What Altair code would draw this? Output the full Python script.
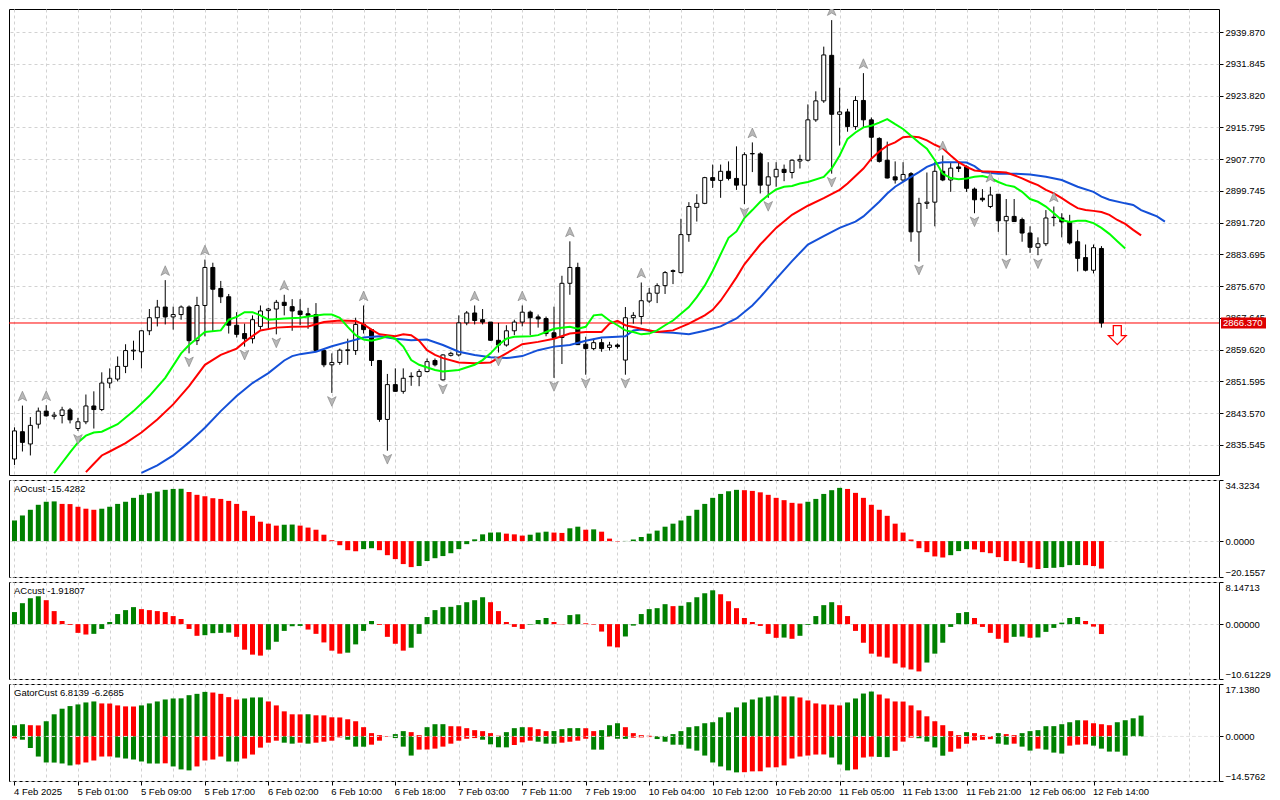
import json
import altair as alt
import pandas as pd

# ---------------- data ----------------
time_labels = ["4 Feb 2025", "5 Feb 01:00", "5 Feb 09:00", "5 Feb 17:00", "6 Feb 02:00",
               "6 Feb 10:00", "6 Feb 18:00", "7 Feb 03:00", "7 Feb 11:00", "7 Feb 19:00",
               "10 Feb 04:00", "10 Feb 12:00", "10 Feb 20:00", "11 Feb 05:00", "11 Feb 13:00",
               "11 Feb 21:00", "12 Feb 06:00", "12 Feb 14:00"]

opens = [2832.0, 2838.9, 2835.8, 2840.8, 2844.1, 2842.8, 2843.0, 2844.4, 2839.7, 2841.4,
         2845.4, 2844.5, 2851.2, 2852.2, 2855.4, 2859.3, 2859.1, 2864.4, 2867.7, 2870.4,
         2867.9, 2868.5, 2870.4, 2861.9, 2870.8, 2880.4, 2875.1, 2873.0, 2865.8, 2863.7,
         2862.4, 2865.5, 2869.5, 2869.9, 2871.6, 2870.5, 2869.4, 2868.7, 2868.5, 2859.4,
         2855.8, 2856.4, 2859.4, 2859.4, 2866.0, 2864.7, 2856.9, 2842.0, 2850.8, 2849.1,
         2852.8, 2852.9, 2854.1, 2856.9, 2852.0, 2858.2, 2858.3, 2866.4, 2868.9, 2867.2,
         2866.6, 2862.0, 2860.8, 2864.4, 2866.6, 2869.1, 2867.9, 2867.5, 2863.9, 2862.7,
         2876.4, 2880.4, 2861.0, 2859.9, 2861.4, 2860.2, 2860.8, 2857.0, 2867.7, 2868.0,
         2871.9, 2873.9, 2875.8, 2879.4, 2879.1, 2888.7, 2895.6, 2896.6, 2903.1, 2902.4,
         2904.7, 2902.9, 2901.2, 2909.1, 2909.1, 2901.2, 2903.3, 2905.2, 2904.4, 2907.3,
         2907.5, 2917.7, 2922.5, 2934.0, 2919.1, 2919.7, 2916.0, 2922.6, 2917.7, 2913.0,
         2907.5, 2903.3, 2902.5, 2904.1, 2889.4, 2896.6, 2896.9, 2904.7, 2902.5, 2905.8,
         2905.8, 2900.2, 2897.9, 2895.8, 2898.9, 2892.2, 2893.3, 2892.5, 2889.1, 2885.5,
         2886.4, 2893.0, 2892.9, 2892.0, 2886.9, 2882.9, 2879.7, 2885.2]
highs = [2840.0, 2845.5, 2842.6, 2845.0, 2845.6, 2843.9, 2845.2, 2844.9, 2842.4, 2848.3,
         2849.1, 2853.9, 2854.9, 2857.9, 2861.0, 2861.9, 2864.5, 2869.9, 2872.2, 2877.2,
         2870.5, 2870.8, 2870.8, 2873.0, 2882.4, 2881.6, 2877.0, 2873.7, 2869.1, 2866.2,
         2868.3, 2870.8, 2870.2, 2872.2, 2873.5, 2872.4, 2872.4, 2870.2, 2871.4, 2859.9,
         2858.7, 2859.9, 2862.4, 2867.7, 2870.8, 2864.9, 2857.0, 2853.5, 2854.9, 2854.9,
         2853.9, 2854.7, 2857.4, 2857.4, 2858.5, 2859.1, 2868.3, 2869.4, 2870.8, 2869.9,
         2866.6, 2866.4, 2865.8, 2867.2, 2870.8, 2869.5, 2868.5, 2868.0, 2870.5, 2878.3,
         2887.0, 2881.6, 2862.9, 2862.4, 2862.4, 2861.6, 2861.2, 2870.4, 2869.1, 2876.6,
         2875.2, 2876.4, 2879.5, 2879.9, 2892.7, 2896.9, 2898.9, 2903.3, 2906.4, 2906.4,
         2907.2, 2911.0, 2909.5, 2912.0, 2909.5, 2907.0, 2907.0, 2906.4, 2907.7, 2908.9,
         2921.6, 2924.9, 2936.2, 2942.9, 2925.8, 2920.5, 2923.7, 2929.5, 2918.3, 2913.3,
         2912.2, 2907.2, 2907.0, 2904.5, 2898.0, 2904.4, 2907.0, 2908.7, 2907.0, 2907.0,
         2906.2, 2900.6, 2900.2, 2900.8, 2898.9, 2897.7, 2897.7, 2893.0, 2890.8, 2888.0,
         2894.9, 2895.8, 2894.1, 2893.7, 2889.9, 2886.2, 2886.2, 2885.8]
lows = [2830.5, 2833.9, 2832.9, 2839.7, 2842.7, 2842.0, 2841.0, 2841.0, 2839.1, 2840.8,
        2839.7, 2844.1, 2849.9, 2851.6, 2853.7, 2857.0, 2854.9, 2863.3, 2865.5, 2866.0,
        2864.7, 2867.2, 2858.7, 2860.8, 2863.0, 2864.1, 2871.4, 2863.7, 2862.7, 2860.4,
        2861.2, 2864.7, 2864.9, 2863.5, 2868.3, 2864.4, 2865.8, 2864.9, 2859.1, 2855.2,
        2848.7, 2855.8, 2855.8, 2858.3, 2863.7, 2855.5, 2841.4, 2834.1, 2849.0, 2848.5,
        2850.5, 2850.4, 2853.9, 2855.4, 2851.8, 2857.9, 2857.9, 2865.8, 2866.0, 2866.0,
        2861.9, 2858.9, 2860.4, 2863.3, 2865.5, 2863.3, 2865.2, 2863.0, 2852.5, 2856.0,
        2873.5, 2860.8, 2853.3, 2859.5, 2859.1, 2859.4, 2859.9, 2853.3, 2866.2, 2866.0,
        2871.4, 2871.4, 2873.7, 2876.2, 2878.9, 2886.9, 2892.0, 2896.4, 2900.5, 2898.0,
        2902.4, 2900.0, 2896.4, 2904.5, 2899.1, 2898.0, 2900.8, 2902.2, 2902.9, 2905.4,
        2907.2, 2917.2, 2922.0, 2904.1, 2911.2, 2914.7, 2915.2, 2915.8, 2907.2, 2906.9,
        2902.9, 2901.6, 2902.0, 2886.9, 2881.9, 2895.2, 2890.8, 2902.2, 2899.5, 2904.5,
        2899.5, 2894.1, 2897.0, 2895.4, 2889.4, 2883.5, 2891.9, 2886.9, 2884.1, 2883.5,
        2885.8, 2890.8, 2888.0, 2886.2, 2879.4, 2879.4, 2878.9, 2865.2]
closes = [2839.1, 2836.2, 2840.5, 2844.1, 2842.9, 2843.1, 2844.4, 2841.9, 2841.4, 2845.4,
          2844.5, 2851.2, 2852.4, 2855.4, 2859.4, 2859.5, 2864.4, 2867.7, 2870.4, 2867.9,
          2868.5, 2870.4, 2861.9, 2870.8, 2880.4, 2874.9, 2873.0, 2865.8, 2863.5, 2862.4,
          2867.2, 2869.4, 2869.9, 2871.6, 2870.8, 2869.4, 2868.5, 2868.3, 2859.4, 2855.8,
          2856.4, 2859.5, 2859.6, 2866.0, 2864.7, 2856.9, 2842.0, 2850.8, 2849.1, 2852.4,
          2852.9, 2854.1, 2856.6, 2855.8, 2858.3, 2858.7, 2866.4, 2868.9, 2867.0, 2866.6,
          2862.0, 2860.8, 2864.4, 2866.6, 2869.1, 2867.7, 2867.4, 2863.7, 2862.7, 2876.4,
          2880.4, 2860.9, 2859.9, 2861.4, 2859.9, 2860.8, 2860.4, 2867.7, 2868.3, 2872.0,
          2873.9, 2875.8, 2879.1, 2879.6, 2888.7, 2895.8, 2896.6, 2903.1, 2902.4, 2904.7,
          2902.9, 2901.2, 2908.9, 2909.2, 2901.2, 2903.3, 2905.2, 2904.4, 2907.5, 2907.7,
          2917.7, 2922.5, 2934.1, 2919.1, 2919.7, 2916.0, 2922.6, 2917.7, 2913.3, 2907.2,
          2903.0, 2902.5, 2903.9, 2889.4, 2896.6, 2896.9, 2904.7, 2902.5, 2905.5, 2905.4,
          2900.4, 2897.5, 2897.5, 2898.7, 2892.2, 2893.3, 2892.0, 2889.1, 2885.5, 2886.4,
          2892.9, 2893.1, 2891.9, 2886.6, 2882.7, 2879.7, 2885.4, 2866.37]

fractal_up_bars = [1, 4, 19, 24, 34, 44, 58, 64, 70, 79, 93, 103, 107, 117, 123, 131]
fractal_down_bars = [8, 22, 29, 33, 40, 47, 54, 61, 68, 72, 77, 92, 95, 103, 114, 121, 125, 129]

lips = [(5, 2828.4), (7, 2833.7), (8, 2836.2), (9, 2837.9), (10, 2838.7), (11, 2838.9),
        (13, 2840.8), (15, 2844.1), (17, 2847.9), (19, 2852.5), (21, 2858.7), (22, 2860.8),
        (24, 2864.1), (26, 2864.5), (27, 2867.2), (28, 2867.9), (29, 2869.1), (30, 2869.1),
        (31, 2868.3), (32, 2867.2), (34, 2867.5), (36, 2867.7), (37, 2868.0), (39, 2868.5),
        (40, 2868.5), (41, 2867.7), (42, 2865.4), (43, 2863.3), (44, 2862.2), (45, 2861.9),
        (46, 2862.4), (47, 2863.0), (48, 2862.4), (49, 2860.4), (50, 2857.0), (51, 2855.8),
        (53, 2854.5), (54, 2854.1), (56, 2854.5), (58, 2855.8), (59, 2857.0), (60, 2858.7),
        (61, 2860.8), (62, 2862.4), (63, 2862.9), (65, 2863.0), (66, 2863.3), (67, 2864.1),
        (68, 2864.9), (70, 2865.4), (71, 2864.9), (72, 2865.4), (73, 2868.3), (74, 2868.5),
        (75, 2867.0), (76, 2865.8), (77, 2864.5), (78, 2864.1), (79, 2863.5), (80, 2863.7),
        (81, 2864.5), (82, 2865.8), (83, 2867.0), (84, 2868.7), (85, 2870.4), (86, 2872.9),
        (87, 2875.8), (88, 2879.5), (89, 2883.7), (90, 2887.9), (91, 2889.5), (92, 2892.9),
        (93, 2894.9), (94, 2897.0), (95, 2898.7), (96, 2900.1), (97, 2900.8), (98, 2901.0),
        (99, 2901.6), (100, 2902.0), (102, 2903.3), (103, 2905.4), (104, 2908.7), (105, 2912.9),
        (106, 2914.5), (107, 2915.8), (108, 2916.2), (109, 2917.0), (110, 2917.9), (111, 2916.6),
        (112, 2915.4), (113, 2913.7), (114, 2912.0), (115, 2910.4), (116, 2907.5), (117, 2904.1),
        (118, 2903.0), (119, 2902.7), (120, 2902.9), (121, 2903.3), (122, 2903.5), (123, 2903.0),
        (124, 2902.0), (125, 2901.2), (126, 2900.8), (127, 2899.5), (128, 2897.7), (129, 2897.0),
        (130, 2895.8), (131, 2894.1), (132, 2892.4), (133, 2891.9), (134, 2892.2), (135, 2892.2),
        (136, 2891.6), (137, 2890.4), (138, 2888.9), (139, 2887.0), (140, 2885.2)]
teeth = [(9, 2828.7), (10, 2830.8), (11, 2832.9), (12, 2833.9), (14, 2836.0), (16, 2838.7),
         (18, 2842.0), (20, 2845.8), (22, 2850.4), (24, 2855.8), (26, 2858.3), (28, 2859.9),
         (29, 2861.6), (31, 2864.5), (33, 2865.2), (35, 2865.4), (37, 2865.5), (39, 2866.6),
         (41, 2867.0), (43, 2866.9), (44, 2866.0), (45, 2864.7), (46, 2863.5), (48, 2863.0),
         (49, 2863.5), (50, 2863.3), (51, 2861.9), (52, 2859.5), (53, 2858.3), (54, 2857.5),
         (56, 2856.4), (58, 2856.2), (60, 2856.4), (62, 2858.7), (64, 2861.0), (66, 2861.6),
         (68, 2862.4), (70, 2863.7), (72, 2864.1), (74, 2864.1), (75, 2866.2), (76, 2866.9),
         (77, 2865.8), (79, 2864.9), (81, 2864.1), (83, 2864.5), (85, 2866.2), (87, 2868.3),
         (88, 2869.7), (89, 2872.0), (90, 2874.9), (91, 2877.9), (92, 2881.2), (94, 2886.2),
         (96, 2890.4), (98, 2893.7), (100, 2896.0), (102, 2897.9), (104, 2900.0), (105, 2901.6),
         (106, 2903.5), (107, 2905.4), (108, 2907.9), (109, 2909.7), (110, 2911.2), (111, 2912.0),
         (112, 2913.3), (113, 2913.5), (114, 2913.3), (115, 2912.5), (116, 2911.4), (117, 2910.5),
         (118, 2908.7), (119, 2907.0), (120, 2905.8), (121, 2904.9), (122, 2904.7), (124, 2904.5),
         (125, 2904.4), (126, 2903.7), (127, 2902.9), (128, 2902.0), (129, 2901.2), (130, 2900.0),
         (131, 2899.1), (132, 2897.9), (133, 2896.6), (134, 2895.4), (135, 2894.9), (136, 2894.7),
         (137, 2894.4), (138, 2893.7), (139, 2892.4), (140, 2891.4), (141, 2889.9), (142, 2888.5)]
jaw = [(16, 2828.5), (18, 2830.4), (20, 2832.9), (22, 2836.2), (24, 2839.9), (26, 2844.1),
       (28, 2847.9), (30, 2851.2), (32, 2853.7), (34, 2856.9), (35, 2858.0), (36, 2858.5),
       (38, 2859.1), (40, 2860.5), (42, 2861.6), (44, 2862.7), (46, 2863.0), (48, 2862.4),
       (50, 2862.0), (52, 2862.2), (54, 2860.8), (56, 2859.1), (58, 2858.3), (60, 2857.7),
       (62, 2857.5), (64, 2858.0), (66, 2859.5), (68, 2860.4), (70, 2860.8), (72, 2861.9),
       (74, 2862.7), (76, 2862.9), (77, 2863.0), (78, 2864.5), (79, 2864.7), (81, 2864.1),
       (83, 2863.9), (85, 2863.5), (87, 2864.4), (89, 2865.5), (91, 2867.5), (93, 2870.8),
       (94, 2872.9), (96, 2877.5), (98, 2882.0), (100, 2886.2), (102, 2888.3), (104, 2890.4),
       (106, 2892.0), (107, 2893.3), (109, 2897.0), (110, 2899.1), (111, 2900.8), (113, 2903.3),
       (114, 2904.5), (115, 2905.8), (116, 2906.6), (117, 2907.0), (119, 2907.0), (120, 2906.9),
       (121, 2906.0), (122, 2904.5), (124, 2904.1), (126, 2904.1), (128, 2903.9), (130, 2903.3),
       (132, 2902.5), (134, 2900.8), (136, 2899.5), (137, 2898.3), (138, 2897.5), (140, 2896.6),
       (141, 2896.2), (142, 2894.9), (143, 2894.1), (144, 2893.3), (145, 2892.0)]

ao_values = [11.6, 14.4, 17.6, 20.4, 22.1, 22.3, 20.9, 20.8, 19.3, 18.2,
             17.6, 18.2, 19.3, 20.9, 22.1, 24.3, 26.0, 26.9, 27.8, 28.8,
             29.3, 29.4, 27.6, 26.0, 25.2, 24.1, 23.7, 22.6, 20.9, 17.0,
             14.2, 10.9, 9.8, 8.7, 9.2, 9.3, 8.7, 7.6, 6.4, 3.6,
             0.5, -2.3, -5.1, -5.7, -4.5, -4.0, -5.1, -7.9, -10.1, -12.9,
             -14.6, -14.0, -11.2, -9.6, -8.4, -6.8, -4.5, -1.7, 1.0, 3.8,
             4.8, 4.9, 4.2, 3.8, 3.1, 3.6, 4.8, 5.3, 4.8, 4.6,
             7.2, 8.1, 6.4, 6.6, 5.3, 1.4, -0.2, 0.1, 0.9, 2.3,
             4.2, 5.9, 8.1, 9.8, 11.6, 14.2, 17.6, 20.9, 24.3, 26.5,
             28.0, 28.8, 28.6, 28.2, 27.4, 26.0, 24.3, 23.0, 21.5, 21.1,
             22.1, 23.7, 26.5, 28.6, 29.9, 29.3, 27.1, 24.3, 20.4, 17.6,
             14.2, 9.8, 4.8, 0.9, -4.0, -6.2, -8.6, -9.2, -7.9, -5.6,
             -4.5, -4.7, -6.2, -6.8, -9.0, -11.2, -11.3, -12.3, -14.8, -15.7,
             -15.1, -15.0, -14.6, -13.5, -13.4, -13.5, -14.0, -15.4282]
ac_values = [2.33, 4.05, 5.01, 5.39, 4.63, 2.52, 0.61, -0.16, -1.69, -2.01,
             -1.88, -0.93, 0.41, 1.95, 2.71, 3.29, 2.9, 2.71, 2.52, 2.33,
             1.56, 0.99, -0.93, -2.26, -2.14, -1.75, -1.69, -1.63, -2.46, -4.94,
             -5.9, -6.09, -4.94, -3.41, -1.31, -0.41, -0.35, -1.05, -1.88, -3.54,
             -5.13, -5.71, -5.52, -3.92, -1.31, 0.61, -0.16, -2.46, -3.8, -5.13,
             -4.56, -1.88, 1.37, 2.71, 3.29, 3.35, 3.67, 4.24, 4.63, 5.2,
             4.24, 2.52, 0.41, -0.54, -0.93, -0.1, 0.8, 1.18, 0.41, -0.05,
             1.75, 1.9, 0.16, -0.1, -1.44, -4.31, -4.5, -2.39, -0.29, 1.95,
             2.9, 3.09, 3.86, 3.48, 3.55, 4.24, 5.2, 5.97, 6.54, 5.78,
             4.43, 3.09, 1.18, 0.41, -0.35, -1.88, -2.65, -2.6, -2.84, -2.26,
             -0.16, 1.56, 3.67, 4.24, 3.67, 1.56, -1.31, -3.6, -5.71, -6.28,
             -6.47, -7.62, -8.39, -8.77, -9.15, -7.43, -5.71, -3.6, -0.54, 2.14,
             2.33, 1.18, -0.54, -1.69, -2.84, -3.6, -2.46, -2.4, -2.65, -2.58,
             -1.5, -0.73, 0.29, 1.18, 1.37, 0.61, -0.48, -1.91807]
gator_upper = [3.67, 3.99, 3.67, 3.6, 4.96, 7.23, 9.06, 9.92, 10.46, 11.11,
               11.43, 10.79, 10.75, 10.14, 9.82, 9.78, 10.14, 10.79, 11.43, 12.08,
               12.41, 12.45, 13.48, 13.92, 14.56, 14.35, 13.92, 12.84, 12.08, 12.41,
               12.73, 12.76, 11.43, 10.14, 8.2, 7.23, 7.2, 7.25, 6.9, 6.88,
               6.26, 6.2, 5.61, 4.96, 3.02, 1.08, 0.43, 0.11, 0.76, 1.73,
               1.4, 0.43, 3.02, 3.99, 4.0, 3.34, 3.3, 2.7, 2.05, 1.73,
               1.08, 0.25, 1.4, 2.7, 3.02, 3.0, 2.37, 1.73, 1.75, 2.37,
               2.7, 2.72, 2.68, 1.73, 2.05, 3.67, 4.31, 3.02, 1.08, 0.43,
               0.22, 0.11, 0.15, 0.76, 1.73, 3.02, 3.34, 4.31, 4.64, 6.26,
               7.87, 9.49, 11.11, 12.08, 12.73, 13.05, 13.38, 13.05, 13.1, 12.73,
               11.76, 10.79, 10.46, 10.4, 10.14, 11.11, 12.41, 14.02, 14.67, 13.7,
               12.41, 11.43, 11.4, 10.14, 8.52, 6.58, 4.96, 3.67, 1.73, 0.43,
               1.4, 1.08, 0.43, 0.11, 1.08, 0.76, 0.43, 1.08, 1.73, 2.05,
               3.34, 3.36, 3.99, 4.64, 5.29, 5.25, 4.31, 3.99, 3.67, 4.64,
               5.29, 5.93, 6.8139]
gator_lower = [-0.65, -1.08, -3.78, -6.58, -8.52, -8.55, -8.85, -9.49, -9.17, -8.52,
               -7.87, -6.58, -6.55, -6.9, -7.23, -7.55, -8.2, -8.85, -8.87, -8.8,
               -9.82, -10.79, -11.11, -9.82, -7.87, -7.55, -6.58, -8.2, -8.22, -7.23,
               -5.93, -3.67, -2.05, -1.4, -2.05, -2.37, -2.05, -2.37, -2.05, -1.73,
               -1.4, -0.32, -1.08, -3.34, -3.36, -2.7, -1.4, -0.11, -0.54, -3.34,
               -6.26, -4.31, -4.28, -3.99, -3.34, -2.37, -1.4, -0.76, -0.54, -1.08,
               -2.59, -3.56, -3.58, -2.8, -1.94, -1.4, -1.73, -2.37, -2.4, -2.05,
               -1.73, -1.4, -0.76, -4.31, -4.33, -0.11, -0.76, -0.78, -0.43, -0.32,
               -0.22, -0.86, -1.73, -2.7, -2.72, -3.99, -4.64, -6.26, -8.52, -9.82,
               -11.11, -11.76, -11.7, -11.43, -11.4, -10.14, -10.1, -9.49, -7.23, -6.58,
               -6.26, -5.93, -5.9, -6.9, -9.17, -11.11, -10.79, -6.9, -6.6, -6.7,
               -6.8, -4.7, -1.7, -0.4, -0.6, -1.7, -3.6, -6.3, -5.0, -4.0,
               -2.4, -1.3, -1.1, -0.9, -2.37, -2.7, -2.37, -3.34, -4.64, -3.99,
               -4.31, -5.29, -5.61, -3.02, -2.7, -2.59, -3.02, -3.99, -4.96, -4.98,
               -6.2685]

price_ticks = [2835.545, 2843.570, 2851.595, 2859.620, 2867.645, 2875.670, 2883.695,
               2891.720, 2899.745, 2907.770, 2915.795, 2923.820, 2931.845, 2939.870]
price_range = [2827.96, 2945.71]
last_price = 2866.370
signal_bar = [139]
signal_price = [2863.3]

ao_range = [-20.1557, 34.3234]
ac_range = [-10.61229, 8.14713]
gator_range = [-14.5762, 17.1380]

# ---------------- styling ----------------
W = 1210
MAIN_H = 466
IND_H = 97
BAR_PX = 8
FONT = "Liberation Sans"
FS = 9.5
GREEN = "#008000"
RED = "#ff0000"
GRID = "#d2d2d2"

x0 = -0.5 / BAR_PX
xscale = alt.Scale(domain=[x0, x0 + W / BAR_PX], nice=False, zero=False)
grid_vals = list(range(0, int(x0 + W / BAR_PX) + 1, 4))
last_lab = 8 * (len(time_labels) - 1)
lab_test = f"datum.value % 8 == 0 && datum.value <= {last_lab}"


def x_enc(bottom=False):
    if bottom:
        ax = alt.Axis(values=grid_vals, grid=True, gridDash=[3, 3], gridColor=GRID,
                      domain=False, title=None, zindex=0,
                      labelExpr=f"({lab_test}) ? {json.dumps(time_labels)}[datum.value / 8] : ''",
                      labelAlign="left", labelBaseline="top", labelPadding=1, labelOffset=-1,
                      labelOverlap=False, labelFlush=False, labelBound=False,
                      tickSize=4,
                      tickColor={"condition": {"test": lab_test, "value": "black"},
                                 "value": "transparent"},
                      labelFont=FONT, labelFontSize=FS, labelColor="black")
    else:
        ax = alt.Axis(values=grid_vals, grid=True, gridDash=[3, 3], gridColor=GRID,
                      labels=False, ticks=False, domain=False, title=None, zindex=0)
    return alt.X("i:Q", scale=xscale, axis=ax)


yscale_main = alt.Scale(domain=price_range, nice=False, zero=False)
yaxis_main = alt.Axis(orient="right", values=price_ticks, format=".3f", grid=True,
                      gridDash=[3, 3], gridColor=GRID, tickSize=4, tickColor="black",
                      domain=False, labelPadding=2, title=None, labelOverlap=False,
                      labelFont=FONT, labelFontSize=FS, labelColor="black", zindex=0)


def y_main(field):
    return alt.Y(f"{field}:Q", scale=yscale_main, axis=yaxis_main)


# ---------------- main price panel ----------------
cdf = pd.DataFrame({"i": list(range(len(opens))), "o": opens, "h": highs,
                    "l": lows, "c": closes})

pdf = pd.DataFrame({"p": [last_price], "t": [f"{last_price:.3f}"]})
price_line = alt.Chart(pdf).mark_rule(color=RED, strokeWidth=1).encode(y=y_main("p"))

wicks = alt.Chart(cdf).mark_rule(color="black", strokeWidth=1, clip=True).encode(
    x=x_enc(), y=y_main("l"), y2="h:Q")
bodies = alt.Chart(cdf).mark_bar(width=4, stroke="black", strokeWidth=1, clip=True).encode(
    x=x_enc(), y=y_main("o"), y2="c:Q",
    fill=alt.condition(alt.datum.c >= alt.datum.o, alt.value("white"), alt.value("black")))


def line_layer(pairs, color):
    d = pd.DataFrame(pairs, columns=["i", "v"])
    return alt.Chart(d).mark_line(color=color, strokeWidth=2, clip=True).encode(
        x=x_enc(), y=y_main("v"))


jaw_l = line_layer(jaw, "#1450d8")
teeth_l = line_layer(teeth, "#ff0000")
lips_l = line_layer(lips, "#00ff00")

UP = "M0,-1L0.8,0.8L0,0.35L-0.8,0.8Z"
DN = "M0,1L0.8,-0.8L0,-0.35L-0.8,-0.8Z"
SIG = "M-0.42,-1L0.42,-1L0.42,0.05L0.93,0.05L0,1L-0.93,0.05L-0.42,0.05Z"

fu = pd.DataFrame({"i": fractal_up_bars, "p": [highs[k] for k in fractal_up_bars]})
fd = pd.DataFrame({"i": fractal_down_bars, "p": [lows[k] for k in fractal_down_bars]})
fr_up = alt.Chart(fu).mark_point(shape=UP, filled=True, size=115, fill="#b8b8b8",
                                 stroke="#7c7c7c", strokeWidth=0.6, opacity=1,
                                 yOffset=-9, clip=True).encode(x=x_enc(), y=y_main("p"))
fr_dn = alt.Chart(fd).mark_point(shape=DN, filled=True, size=115, fill="#b8b8b8",
                                 stroke="#7c7c7c", strokeWidth=0.6, opacity=1,
                                 yOffset=8, clip=True).encode(x=x_enc(), y=y_main("p"))

sdf = pd.DataFrame({"i": signal_bar, "p": signal_price})
sig = alt.Chart(sdf).mark_point(shape=SIG, filled=True, size=361, fill="white",
                                stroke=RED, strokeWidth=1.3, opacity=1, clip=True).encode(
    x=x_enc(), y=y_main("p"))

label_bg = alt.Chart(pdf).mark_rule(color="#dd0000", strokeWidth=11, strokeCap="butt").encode(
    x=alt.value(W + 2), x2=alt.value(W + 47), y=y_main("p"))
label_tx = alt.Chart(pdf).mark_text(align="left", baseline="middle", color="white",
                                    font=FONT, fontSize=FS).encode(
    x=alt.value(W + 4), y=y_main("p"), text="t:N")

main = alt.layer(price_line, wicks, bodies, jaw_l, teeth_l, lips_l, fr_up, fr_dn, sig,
                 label_bg, label_tx).properties(width=W, height=MAIN_H)


# ---------------- indicator panels ----------------
def rising_colors(vals, first, key=lambda v: v):
    cols = [first]
    for a, b in zip(vals[:-1], vals[1:]):
        cols.append(GREEN if key(b) > key(a) else RED)
    return cols


def hist_df(vals, cols):
    return pd.DataFrame({"i": list(range(len(vals))), "v": vals, "col": cols})


def ind_panel(frames, dom, fmt, title, bottom=False, zero_overlay=False):
    yscale = alt.Scale(domain=dom, nice=False, zero=False)
    yaxis = alt.Axis(orient="right", values=[dom[0], 0.0, dom[1]], format=fmt, grid=True,
                     gridDash=[3, 3], gridColor=GRID, tickSize=4, tickColor="black",
                     domain=False, labelPadding=2, labelFlush=True, title=None,
                     labelOverlap=False, labelFont=FONT, labelFontSize=FS,
                     labelColor="black", zindex=0)
    layers = []
    for f in frames:
        layers.append(alt.Chart(f).mark_bar(width=5, clip=True).encode(
            x=x_enc(bottom), y=alt.Y("v:Q", scale=yscale, axis=yaxis),
            y2=alt.datum(0), color=alt.Color("col:N", scale=None)))
    if zero_overlay:
        layers.append(alt.Chart(pd.DataFrame({"z": [0.0]})).mark_rule(
            color="#e6e6e6", strokeDash=[3, 3], strokeWidth=1).encode(
            y=alt.Y("z:Q", scale=yscale, axis=yaxis)))
    layers.append(alt.Chart(pd.DataFrame({"t": [title]})).mark_text(
        align="left", baseline="middle", font=FONT, fontSize=FS, color="black").encode(
        x=alt.value(5), y=alt.value(9), text="t:N"))
    return alt.layer(*layers).properties(width=W, height=IND_H)


ao_df = hist_df(ao_values, rising_colors(ao_values, GREEN))
ac_df = hist_df(ac_values, rising_colors(ac_values, GREEN))
gu_df = hist_df(gator_upper, rising_colors(gator_upper, GREEN))
gl_df = hist_df(gator_lower, rising_colors(gator_lower, RED, key=abs))

ao_p = ind_panel([ao_df], ao_range, ".4f", f"AOcust {ao_values[-1]:.4f}")
ac_p = ind_panel([ac_df], ac_range, ".5f", f"ACcust {ac_values[-1]:.5f}")
gator_p = ind_panel([gu_df, gl_df], gator_range, ".4f",
                    f"GatorCust {gator_upper[-1]:.4f} {gator_lower[-1]:.4f}",
                    bottom=True, zero_overlay=True)

chart = alt.vconcat(main, ao_p, ac_p, gator_p, spacing=3).properties(
    padding=0, background="white"
).configure_view(stroke="black", strokeWidth=1).configure_axis(
    labelFont=FONT, labelFontSize=FS, labelColor="black")

chart.save("out.html", embed_options={"renderer": "svg", "actions": False})
